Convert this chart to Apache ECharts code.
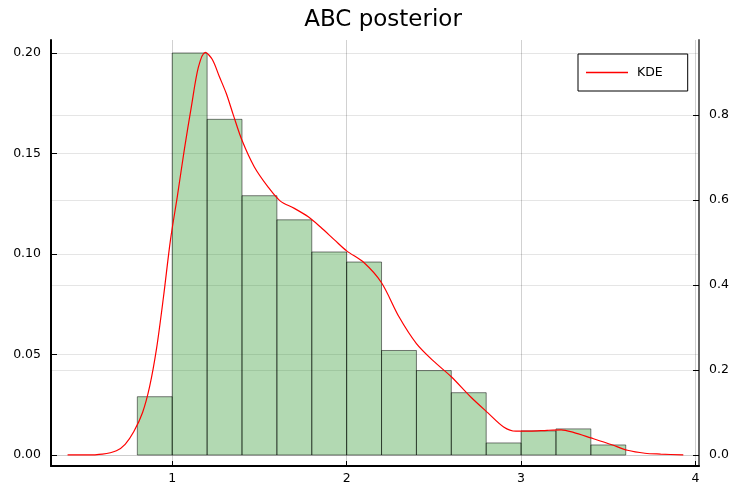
<!DOCTYPE html>
<html>
<head>
<meta charset="utf-8">
<script src="https://cdn.jsdelivr.net/npm/echarts@6/dist/echarts.min.js"></script>
<style>
  html, body { margin: 0; padding: 0; background: #fff; }
  #chart { width: 732px; height: 490px; }
</style>
</head>
<body>
<div id="chart"></div>
<script>
// Histogram bins (edges) and normalised frequencies
const binEdges = [0.8, 1.0, 1.2, 1.4, 1.6, 1.8, 2.0, 2.2, 2.4, 2.6, 2.8, 3.0, 3.2, 3.4, 3.6];
const binHeights = [0.029, 0.200, 0.167, 0.129, 0.117, 0.101, 0.096, 0.052, 0.042, 0.031, 0.006, 0.012, 0.013, 0.005];

// Kernel density estimate (right axis)
const kdeX = [0.40, 0.50, 0.60, 0.68, 0.73, 0.78, 0.83, 0.87, 0.91, 0.95, 0.99, 1.03, 1.07, 1.11, 1.15, 1.19, 1.23, 1.27, 1.31, 1.35, 1.40, 1.47, 1.55, 1.62, 1.70, 1.78, 1.85, 1.93, 2.00, 2.10, 2.20, 2.30, 2.40, 2.50, 2.60, 2.71, 2.81, 2.90, 2.97, 3.05, 3.15, 3.23, 3.30, 3.40, 3.52, 3.61, 3.71, 3.80, 3.93];
const kdeY = [0.000, 0.000, 0.002, 0.010, 0.025, 0.055, 0.100, 0.160, 0.250, 0.372, 0.506, 0.610, 0.720, 0.820, 0.912, 0.947, 0.930, 0.890, 0.850, 0.800, 0.740, 0.678, 0.630, 0.597, 0.580, 0.560, 0.536, 0.506, 0.480, 0.452, 0.405, 0.325, 0.262, 0.220, 0.184, 0.137, 0.099, 0.066, 0.056, 0.056, 0.058, 0.059, 0.053, 0.040, 0.024, 0.011, 0.004, 0.002, 0.000];

// Axis ticks
const xTicks = [1, 2, 3, 4];
const leftTicks = [0, 0.05, 0.10, 0.15, 0.20];
const rightTicks = [0, 0.2, 0.4, 0.6, 0.8];

const histData = binHeights.map((h, i) => [binEdges[i], binEdges[i + 1], h]);
const kdeData = kdeX.map((x, i) => [x, kdeY[i]]);

const font = '"DejaVu Sans", sans-serif';
const chart = echarts.init(document.getElementById('chart'), null, { renderer: 'canvas' });

chart.setOption({
  animation: false,
  backgroundColor: '#ffffff',
  title: {
    text: 'ABC posterior',
    left: 378,
    textAlign: 'center',
    top: 4,
    textStyle: { fontFamily: font, fontSize: 23, fontWeight: 'normal', color: '#000' }
  },
  legend: {
    data: [{ name: 'KDE', icon: 'rect' }],
    formatter: name => ' ' + name,
    left: 578,
    top: 54,
    itemWidth: 42,
    itemHeight: 1.5,
    padding: [12, 25, 12, 8],
    borderColor: '#000',
    borderWidth: 1,
    textStyle: { fontFamily: font, fontSize: 12.5, color: '#000' }
  },
  grid: { left: 51, right: 33, top: 40, bottom: 24, containLabel: false },
  xAxis: {
    type: 'value',
    min: 0.305,
    max: 4.02,
    axisLine: { show: true, onZero: false, lineStyle: { color: '#000', width: 2 } },
    axisTick: { show: true, inside: true, length: 5, customValues: xTicks, lineStyle: { color: '#000' } },
    axisLabel: { customValues: xTicks, margin: 6, fontFamily: font, fontSize: 12.5, color: '#000', formatter: v => String(v) },
    splitLine: { show: true, lineStyle: { color: 'rgba(0,0,0,0.18)', width: 1 } }
  },
  yAxis: [
    {
      type: 'value',
      position: 'left',
      min: -0.00547,
      max: 0.20647,
      axisLine: { show: true, onZero: false, lineStyle: { color: '#000', width: 2 } },
      axisTick: { show: true, inside: true, length: 6, customValues: leftTicks, lineStyle: { color: '#000' } },
      axisLabel: { customValues: leftTicks, margin: 10, fontFamily: font, fontSize: 12.5, color: '#000', formatter: v => v.toFixed(2) },
      splitLine: { show: true, lineStyle: { color: 'rgba(0,0,0,0.1)', width: 1 } }
    },
    {
      type: 'value',
      position: 'right',
      min: -0.026,
      max: 0.976,
      axisLine: { show: true, onZero: false, lineStyle: { color: '#666', width: 2 } },
      axisTick: { show: true, inside: true, length: 6, customValues: rightTicks, lineStyle: { color: '#000' } },
      axisLabel: { customValues: rightTicks, margin: 10, fontFamily: font, fontSize: 12.5, color: '#000', formatter: v => v.toFixed(1) },
      splitLine: { show: true, lineStyle: { color: 'rgba(0,0,0,0.1)', width: 1 } }
    }
  ],
  series: [
    {
      name: 'histogram',
      type: 'custom',
      xAxisIndex: 0,
      yAxisIndex: 0,
      data: histData,
      z: 2,
      renderItem: function (params, api) {
        const p0 = api.coord([api.value(0), api.value(2)]);
        const p1 = api.coord([api.value(1), 0]);
        return {
          type: 'rect',
          shape: { x: p0[0], y: p0[1], width: p1[0] - p0[0], height: p1[1] - p0[1] },
          style: { fill: 'rgba(0,128,0,0.3)', stroke: 'rgba(0,0,0,0.5)', lineWidth: 1 }
        };
      }
    },
    {
      name: 'KDE',
      type: 'line',
      xAxisIndex: 0,
      yAxisIndex: 1,
      data: kdeData,
      smooth: 0.3,
      showSymbol: false,
      symbol: 'none',
      z: 3,
      color: '#ff0000',
      lineStyle: { color: '#ff0000', width: 1.2 }
    }
  ]
});
</script>
</body>
</html>
